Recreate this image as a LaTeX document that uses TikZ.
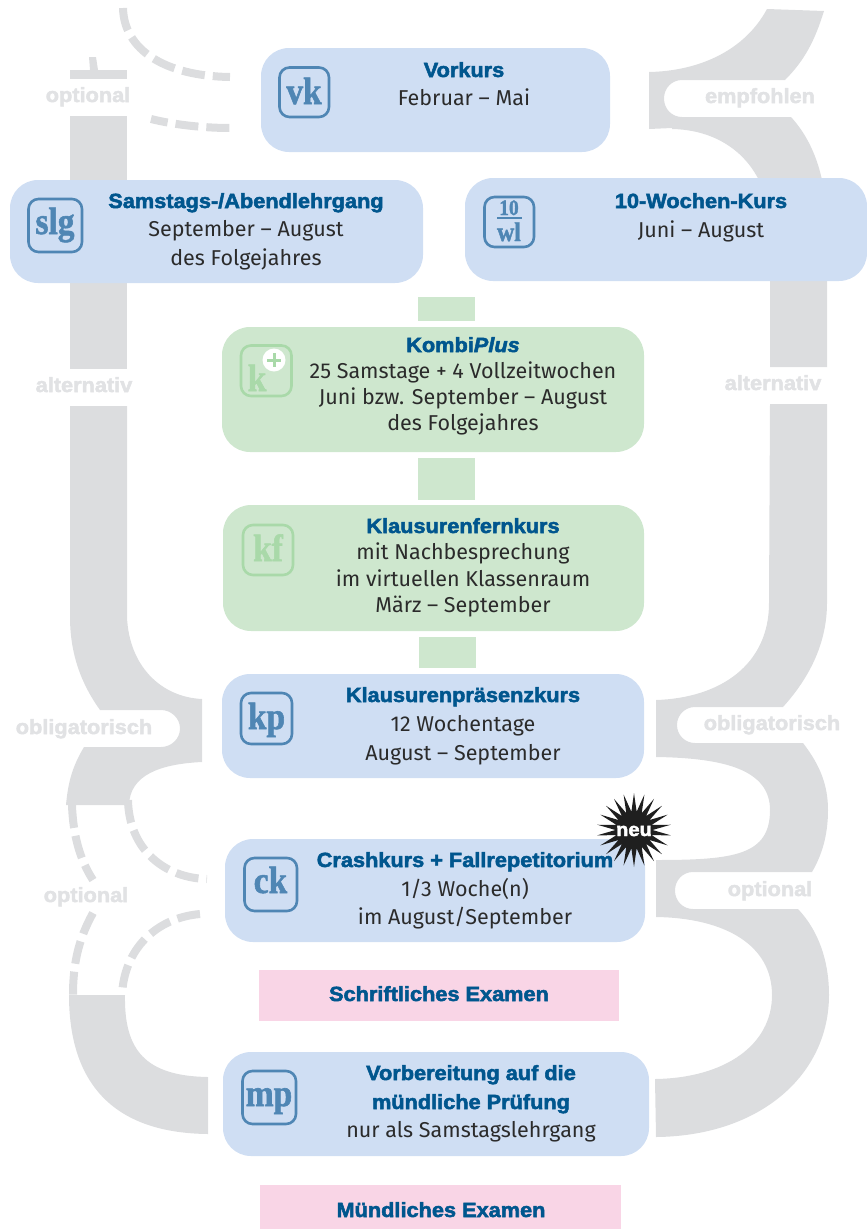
\documentclass[tikz,border=0pt]{standalone}
\usepackage{fontspec}
\usetikzlibrary{shapes.geometric}
\setmainfont{Fira Sans}
\newfontfamily\heavy[FakeBold=2.5,FakeStretch=1.06]{Liberation Sans Bold}
\newfontfamily\heavyit[FakeBold=2.5,FakeStretch=1.06]{Liberation Sans Bold Italic}
\newfontfamily\iconf[FakeBold=1.5,FakeStretch=0.88]{Liberation Serif Bold}
\definecolor{boxblue}{HTML}{CFDEF3}
\definecolor{boxgreen}{HTML}{CEE7CE}
\definecolor{boxpink}{HTML}{F9D5E6}
\definecolor{trunk}{HTML}{DCDDDF}
\definecolor{lbl}{HTML}{E1E2E4}
\definecolor{ttl}{HTML}{00568E}
\definecolor{body}{HTML}{2B2B2B}
\definecolor{iconb}{HTML}{4F86B4}
\definecolor{icong}{HTML}{A9D9A9}
\tikzset{
 x=1pt,y=-1pt,
 fillgrey/.style={fill=trunk,draw=none},
 dashline/.style={draw=trunk,line width=8pt,dash pattern=on 23pt off 8pt},
 panel/.style={fill=#1,draw=none,rounded corners=28pt},
 ttltext/.style={text=ttl,font=\heavy\fontsize{20.5}{24}\selectfont,inner sep=0pt,anchor=base},
 bodytext/.style={text=body,font=\fontsize{21.5}{24}\selectfont,inner sep=0pt,anchor=base},
 greylabel/.style={text=lbl,font=\heavy\fontsize{20.5}{24}\selectfont,inner sep=0pt,anchor=base},
 iconbox/.style={draw=#1,line width=2.6pt,rounded corners=10pt},
 icontext/.style={text=#1,font=\iconf\fontsize{38}{38}\selectfont,inner sep=0pt,anchor=base},
}
\begin{document}
\begin{tikzpicture}
\useasboundingbox (0,0) rectangle (867,1229);
% grey trunks, left
\fill[fillgrey] (70,70) rectangle (127,79);
\fill[fillgrey] (89,57) -- (96,57) -- (98,70) -- (90,70) -- cycle;
\fill[fillgrey] (70,116) rectangle (127,369);
\fill[fillgrey] (70,406) -- (127,406) -- (127,617)
  .. controls (129,665) and (160,697) .. (202,699)
  -- (202,762) .. controls (160,764) and (130,775) .. (129,805)
  -- (66,805) .. controls (68,783) and (72,767) .. (84,747)
  -- (161,747) .. controls (171,747) and (180,739) .. (180,728.5)
  .. controls (180,718) and (171,710) .. (161,710)
  -- (100,710) .. controls (82,685) and (70,655) .. (70,617) -- cycle;
% grey trunks, right
\fill[fillgrey] (649,72) .. controls (700,71) and (745,50) .. (767,9)
  -- (824,11) .. controls (815,40) and (805,60) .. (785,80)
  -- (682,80) .. controls (672,80) and (664,88) .. (664,98.5)
  .. controls (664,109) and (672,117) .. (682,117)
  -- (791,117) .. controls (812,140) and (827,175) .. (827,230)
  -- (827,367) -- (770,367) -- (770,230)
  .. controls (770,170) and (730,130) .. (672,129) -- (672,128) -- (649,129) -- cycle;
\fill[fillgrey] (770,404) -- (827,404) -- (827,603)
  .. controls (827,640) and (812,675) .. (783,707)
  -- (695,707) .. controls (685,707) and (677,715) .. (677,725)
  .. controls (677,735) and (685,743) .. (695,743)
  -- (803,743) .. controls (820,765) and (828,785) .. (828,810)
  .. controls (828,835) and (822,855) .. (812,872)
  -- (693,872) .. controls (683,872) and (675,880) .. (675,890.5)
  .. controls (675,901) and (683,909) .. (693,909)
  -- (798,909) .. controls (818,930) and (829,960) .. (829,995)
  .. controls (829,1075) and (760,1136) .. (656,1137)
  -- (655,1079) .. controls (725,1078) and (772,1045) .. (772,995)
  .. controls (772,945) and (725,918) .. (656,917)
  -- (656,860) .. controls (735,860) and (770,855) .. (770,810)
  .. controls (770,770) and (725,758) .. (656,757)
  -- (656,700) .. controls (720,698) and (769,665) .. (769,603) -- cycle;
% grey lower left
\fill[fillgrey] (69,995) -- (125,995) .. controls (124,1050) and (145,1076) .. (208,1077)
  -- (208,1134) .. controls (110,1133) and (69,1080) .. (69,995) -- cycle;
% dashed branches
\draw[dashline] (123,8) .. controls (124,50) and (165,76) .. (230,77);
\draw[dashline,dash phase=6pt] (151,119) .. controls (175,125) and (205,128) .. (230,128);
\draw[dashline] (72,805) .. controls (73,835) and (80,860) .. (93,880);
\draw[dashline] (128,800) .. controls (129,850) and (165,878) .. (207,879);
\draw[dashline] (93,913) .. controls (78,940) and (73,965) .. (73,995);
\draw[dashline] (200,914) .. controls (155,918) and (124,950) .. (122,995);
% green connectors
\fill[boxgreen] (418,297) rectangle (475,321);
\fill[boxgreen] (418,458) rectangle (475,500);
\fill[boxgreen] (419,637) rectangle (476,668);
% panels
\fill[panel=boxblue] (261,48) rectangle (610,152);
\fill[panel=boxblue] (10,180) rectangle (423,283);
\fill[panel=boxblue] (465,178) rectangle (867,281);
\fill[panel=boxgreen] (222,327) rectangle (644,452);
\fill[panel=boxgreen] (223,505) rectangle (644,631);
\fill[panel=boxblue] (222,674) rectangle (644,778);
\fill[panel=boxblue] (225,839) rectangle (645,942);
\fill[panel=boxblue] (223,1052) rectangle (649,1156);
\fill[boxpink] (259,970) rectangle (619,1021);
\fill[boxpink] (260,1185) rectangle (621,1229);
% icons
\draw[iconbox=iconb] (279.5,67.5) rectangle (329,117);
\node[icontext=iconb] (ivk) at (304,104) {vk};
\draw[iconbox=iconb] (28.5,199) rectangle (82,252);
\node[icontext=iconb] (islg) at (55,234) {slg};
\draw[iconbox=iconb] (484.5,197) rectangle (534,247);
\node[icontext=iconb,font=\iconf\fontsize{22}{24}\selectfont] (iten) at (509,215) {10};
\draw[iconb,line width=2pt] (497,218) -- (522,218);
\node[icontext=iconb,font=\iconf\fontsize{27}{27}\selectfont] (iwl) at (509,241) {wl};
\draw[iconbox=icong] (241,345.5) rectangle (291.5,396);
\node[icontext=icong] (ik) at (257,391) {k};
\fill[white] (274,360) circle[radius=11.5];
\draw[icong,line width=3pt] (274,353) -- (274,367) (267,360) -- (281,360);
\draw[iconbox=icong] (243,525) rectangle (293,575);
\node[icontext=icong] (ikf) at (268,561) {kf};
\draw[iconbox=iconb] (241,693) rectangle (292,744);
\node[icontext=iconb] (ikp) at (266.5,729) {kp};
\draw[iconbox=iconb] (244.5,858) rectangle (297,911);
\node[icontext=iconb] (ick) at (270.5,893) {ck};
\draw[iconbox=iconb] (242.5,1071) rectangle (296,1124);
\node[icontext=iconb] (imp) at (269,1106) {mp};
% panel text
\node[ttltext] (t1) at (464,77) {Vorkurs};
\node[bodytext] (b1) at (464,105) {Februar – Mai};
\node[ttltext] (t2) at (246,208) {Samstags-/Abendlehrgang};
\node[bodytext] (b2) at (246,236) {September – August};
\node[bodytext] (b2b) at (246,265) {des Folgejahres};
\node[ttltext] (t3) at (701,208) {10-Wochen-Kurs};
\node[bodytext] (b3) at (701,237) {Juni – August};
\node[ttltext] (t4) at (463,352) {Kombi{\heavyit Plus}};
\node[bodytext] (b4) at (463,378) {25 Samstage + 4 Vollzeitwochen};
\node[bodytext] (b4b) at (463,404) {Juni bzw. September – August};
\node[bodytext] (b4c) at (463,430) {des Folgejahres};
\node[ttltext] (t5) at (463,533) {Klausurenfernkurs};
\node[bodytext] (b5) at (463,559) {mit Nachbesprechung};
\node[bodytext] (b5b) at (463,586) {im virtuellen Klassenraum};
\node[bodytext] (b5c) at (463,612) {März – September};
\node[ttltext] (t6) at (463,702) {Klausurenpräsenzkurs};
\node[bodytext] (b6) at (463,731) {12 Wochentage};
\node[bodytext] (b6b) at (463,760) {August – September};
\node[ttltext] (t7) at (465,867) {Crashkurs + Fallrepetitorium};
\node[bodytext] (b7) at (465,896) {1/3 Woche(n)};
\node[bodytext] (b7b) at (465,924) {im August/September};
\node[ttltext] (t8) at (439,1001) {Schriftliches Examen};
\node[ttltext] (t9) at (471,1080) {Vorbereitung auf die};
\node[ttltext] (t9b) at (471,1109) {mündliche Prüfung};
\node[bodytext] (b9) at (471,1137) {nur als Samstagslehrgang};
\node[ttltext] (t10) at (441,1217) {Mündliches Examen};
% grey labels
\node[greylabel] (l1) at (88,102) {optional};
\node[greylabel] (l2) at (760,103) {empfohlen};
\node[greylabel] (l3) at (84,392) {alternativ};
\node[greylabel] (l4) at (773,390) {alternativ};
\node[greylabel] (l5) at (84,734) {obligatorisch};
\node[greylabel] (l6) at (772,730) {obligatorisch};
\node[greylabel] (l7) at (86,902) {optional};
\node[greylabel] (l8) at (770,896) {optional};
% star
\node[star,star points=22,star point ratio=2,fill=black!88,draw=none,minimum size=74pt,inner sep=0pt] (st) at (634,830) {};
\node[text=white,font=\heavy\fontsize{19}{20}\selectfont,inner sep=0pt,anchor=base] (neu) at (634,836) {neu};
\end{tikzpicture}
\end{document}
